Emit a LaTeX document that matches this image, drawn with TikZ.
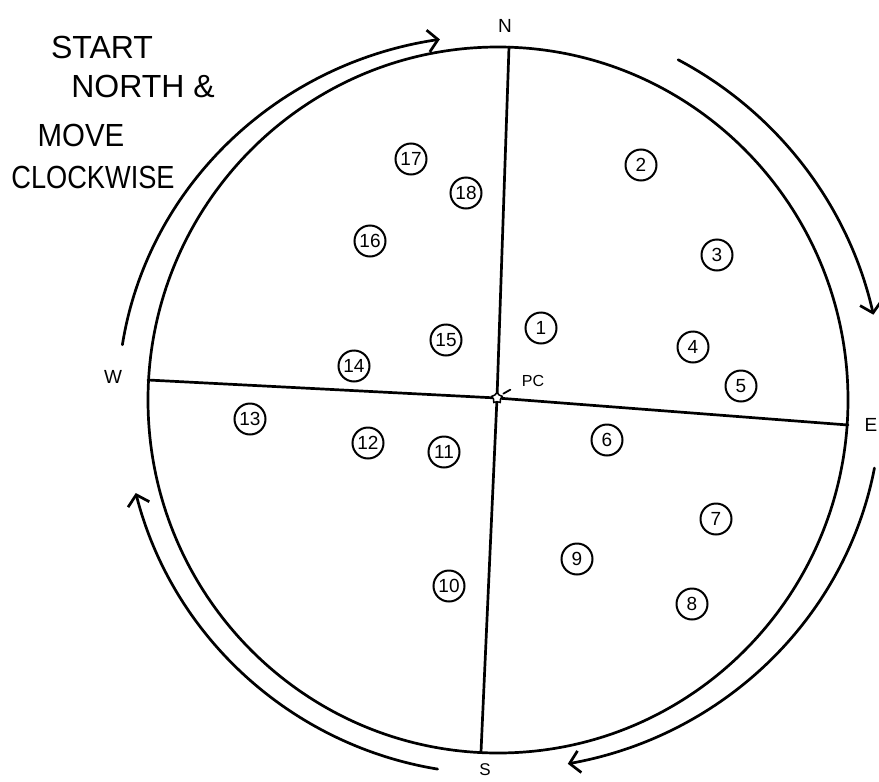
\documentclass[tikz,border=0pt]{standalone}
\usepackage{fontspec}
\setmainfont{Liberation Sans}
\usepackage{graphicx}
\usetikzlibrary{arrows.meta,shapes.geometric}
\begin{document}
\begin{tikzpicture}[x=1pt,y=-1pt,
  ink/.style={line width=2.7pt, line cap=round, line join=round},
  flow/.style={ink, -{Straight Barb[length=10pt,width=22pt]}},
  stop/.style={draw, circle, line width=2pt, minimum size=31pt, inner sep=0pt, font=\fontsize{19}{19}\selectfont},
  compass/.style={font=\fontsize{19}{19}\selectfont, inner sep=0pt},
  note/.style={font=\fontsize{32}{32}\selectfont, inner sep=0pt}]
\useasboundingbox (0,0) rectangle (879,782);
% main circle
\coordinate (ctr) at (498,400);
\draw[ink] (ctr) ellipse [x radius=350, y radius=353];
% axes
\coordinate (n) at (509,47);
\coordinate (s) at (481,752);
\coordinate (w) at (148,380);
\coordinate (e) at (848,425);
\coordinate (pc) at (497,398);
\draw[ink] (n) -- (pc) -- (s);
\draw[ink] (w) -- (pc) -- (e);
\node[star, star points=5, draw, fill=white, minimum size=11pt, inner sep=0pt, line width=1.5pt] (pcmark) at (pc) {};
\node[font=\fontsize{16}{16}\selectfont, inner sep=0pt] (pclabel) at (533,381) {PC};
\draw[ink, line width=1.8pt] (pcmark.north east) ++(3,-1) -- ++(7,-4);
% compass letters
\node[compass] (nl) at (505,26) {N};
\node[compass] (el) at (871,425) {E};
\node[compass, font=\fontsize{17}{17}\selectfont] (sl) at (485,770) {S};
\node[compass] (wl) at (113,377) {W};
% arrows
\draw[flow] (ctr) ++(188.7:380 and 365) arc[start angle=188.7, end angle=261.2, x radius=380, y radius=365];
\draw[flow] (ctr) ++(297.9:385) arc[start angle=297.9, end angle=347.2, radius=385];
\draw[flow] (ctr) ++(10.6:383 and 370) arc[start angle=10.6, end angle=79.5, x radius=383, y radius=370];
\draw[flow] (ctr) ++(99.3:374) arc[start angle=99.3, end angle=165.6, radius=374];
% note
\node[note] (t1) at (102,47) {START};
\node[note] (t2) at (143,86) {NORTH \&};
\node[note] (t3) at (81,135) {\scalebox{0.92}[1]{MOVE}};
\node[note] (t4) at (93,177) {\scalebox{0.85}[1]{CLOCKWISE}};
% stops
\node[stop] (p1) at (541,328) {1};
\node[stop] (p2) at (641,165) {2};
\node[stop] (p3) at (717,255) {3};
\node[stop] (p4) at (693,347) {4};
\node[stop] (p5) at (741,386) {5};
\node[stop] (p6) at (607,440) {6};
\node[stop] (p7) at (716,519) {7};
\node[stop] (p8) at (692,604) {8};
\node[stop] (p9) at (577,559) {9};
\node[stop] (p10) at (449,586) {10};
\node[stop] (p11) at (444,452) {11};
\node[stop] (p12) at (368,443) {12};
\node[stop] (p13) at (250,419) {13};
\node[stop] (p14) at (354,366) {14};
\node[stop] (p15) at (446,340) {15};
\node[stop] (p16) at (370,241) {16};
\node[stop] (p17) at (411,159) {17};
\node[stop] (p18) at (466,193) {18};
\end{tikzpicture}
\end{document}
